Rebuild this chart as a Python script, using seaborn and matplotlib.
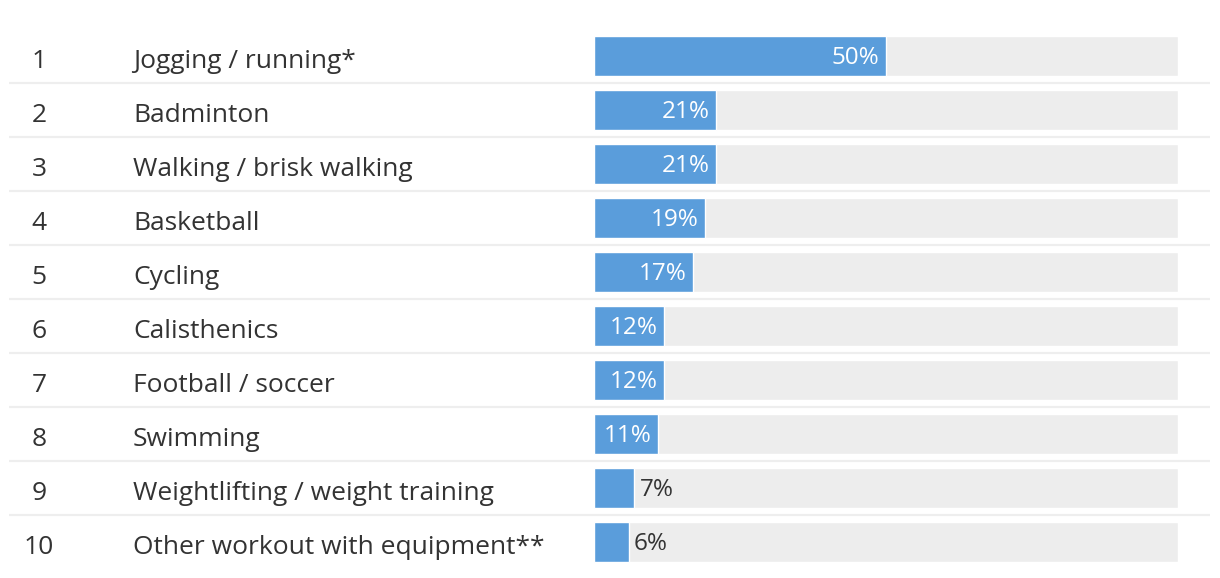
import matplotlib
matplotlib.use("Agg")
import matplotlib.pyplot as plt
import seaborn as sns
import pandas as pd

ranks = ["1", "2", "3", "4", "5", "6", "7", "8", "9", "10"]
activities = [
    "Jogging / running*",
    "Badminton",
    "Walking / brisk walking",
    "Basketball",
    "Cycling",
    "Calisthenics",
    "Football / soccer",
    "Swimming",
    "Weightlifting / weight training",
    "Other workout with equipment**",
]
shares = [50, 21, 21, 19, 17, 12, 12, 11, 7, 6]
track_max = 100

BLUE = "#5A9DDB"
TRACK = "#EDEDED"
TEXT = "#333333"
LINE = "#EEEEEE"

sns.set_theme(style="white")
plt.rcParams["font.family"] = ["Open Sans", "DejaVu Sans"]

W, H = 1220, 578
fig = plt.figure(figsize=(W / 100, H / 100), dpi=100)
# axes spans the bar track: x 594..1178 px, rows from y=29 to 569 px
ax = fig.add_axes([593.5 / W, 1 - 569 / H, 584.5 / W, 540 / H])

df = pd.DataFrame({"activity": activities, "share": shares, "track": [track_max] * len(shares)})

sns.barplot(data=df, y="activity", x="track", color=TRACK, width=40 / 54,
            saturation=1, ax=ax, orient="h")
sns.barplot(data=df, y="activity", x="share", color=BLUE, width=40 / 54,
            saturation=1, ax=ax, orient="h")

ax.set_xlim(0, 100)
ax.set_ylim(len(activities) - 0.5, -0.5)
ax.axis("off")

px = 100 / 584  # data units per pixel in x
py = 1 / 54     # data units per pixel in y
for i, (r, a, v) in enumerate(zip(ranks, activities, shares)):
    yb = i + 11.5 * py
    ax.text((40 - 594) * px, yb, r, ha="center", va="baseline", fontsize=19, color=TEXT)
    ax.text((134 - 594) * px, yb, a, ha="left", va="baseline", fontsize=19, color=TEXT)
    yv = i + 8.5 * py
    if v >= 10:
        ax.text(v - 6 * px, yv, f"{v}%", ha="right", va="baseline", fontsize=17.5, color="white")
    else:
        ax.text(v + 5 * px, yv, f"{v}%", ha="left", va="baseline", fontsize=17.5, color=TEXT)

for i in range(len(activities) - 1):
    ax.plot([(10 - 594) * px, (1210 - 594) * px], [i + 0.5, i + 0.5], color=LINE,
            lw=1.6, clip_on=False, solid_capstyle="butt")

fig.savefig("out.png", dpi=100, facecolor="white")
